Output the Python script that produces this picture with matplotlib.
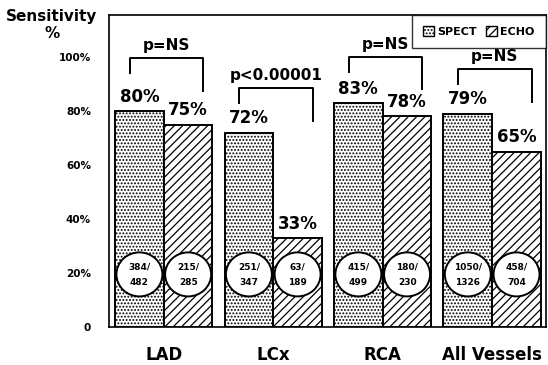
import numpy as np
import matplotlib
matplotlib.use('Agg')
import matplotlib.pyplot as plt
from matplotlib.patches import Ellipse, Patch

plt.rcParams['font.family'] = ['DejaVu Sans']
plt.rcParams['font.weight'] = 'bold'
plt.rcParams['hatch.linewidth'] = 0.9

categories = ['LAD', 'LCx', 'RCA', 'All Vessels']
spect = [80, 72, 83, 79]
echo = [75, 33, 78, 65]
spect_n = ['384/\n482', '251/\n347', '415/\n499', '1050/\n1326']
echo_n = ['215/\n285', '63/\n189', '180/\n230', '458/\n704']
p_labels = ['p=NS', 'p<0.00001', 'p=NS', 'p=NS']
bracket_top = [99.5, 88.5, 100, 95.5]

dots = '.....'
lines = '////'

x = np.arange(1, len(categories) + 1)
w = 0.445

fig = plt.figure(figsize=(5.48, 3.65), dpi=100)
ax = fig.add_axes([0.199, 0.104, 0.797, 0.855])

ax.bar(x - w / 2, spect, w, color='white', edgecolor='black', hatch=dots, linewidth=1.4)
ax.bar(x + w / 2, echo, w, color='white', edgecolor='black', hatch=lines, linewidth=1.4)

for i in range(len(x)):
    ax.text(x[i] - w / 2, spect[i] + 2, '%d%%' % spect[i], ha='center', va='bottom', fontsize=12)
    ax.text(x[i] + w / 2, echo[i] + 2, '%d%%' % echo[i], ha='center', va='bottom', fontsize=12)
    for xc, lab in [(x[i] - w / 2, spect_n[i]), (x[i] + w / 2, echo_n[i])]:
        ax.add_patch(Ellipse((xc, 19.5), 0.42, 16.3, facecolor='white', edgecolor='black', lw=1.4, zorder=3))
        ax.text(xc, 19.5, lab, ha='center', va='center', fontsize=6.5, linespacing=1.9, zorder=4)
    # significance bracket
    t = bracket_top[i]
    xl, xr = x[i] - 0.31, x[i] + 0.36
    ax.plot([xl, xl, xr, xr], [t - 5.5, t, t, t - 12], color='black', lw=1.4)
    ax.text((xl + xr) / 2, t + 2, p_labels[i], ha='center', va='bottom', fontsize=11)

ax.set_xlim(0.5, 4.49)
ax.set_ylim(0, 115.6)
ax.set_xticks(x)
ax.set_xticklabels(categories, fontsize=12)
ax.set_yticks([0, 20, 40, 60, 80, 100])
ax.set_yticklabels(['0', '20%', '40%', '60%', '80%', '100%'], fontsize=7.5)
ax.tick_params(axis='both', length=0)
ax.tick_params(axis='y', pad=13)
ax.tick_params(axis='x', pad=14)
for s in ax.spines.values():
    s.set_linewidth(1.2)

handles = [Patch(facecolor='white', edgecolor='black', hatch=dots, label='SPECT'),
           Patch(facecolor='white', edgecolor='black', hatch=lines, label='ECHO')]
leg = ax.legend(handles=handles, loc='upper right', ncol=2, fontsize=8, frameon=True,
                fancybox=False, borderaxespad=0, handlelength=1.0, handleheight=1.0,
                handletextpad=0.3, columnspacing=0.8, borderpad=1.0)
leg.get_frame().set_edgecolor('black')
leg.get_frame().set_linewidth(1.0)

fig.text(0.095, 0.955, 'Sensitivity', ha='center', va='center', fontsize=11)
fig.text(0.095, 0.908, '%', ha='center', va='center', fontsize=11)

fig.savefig('out.png', dpi=100)
